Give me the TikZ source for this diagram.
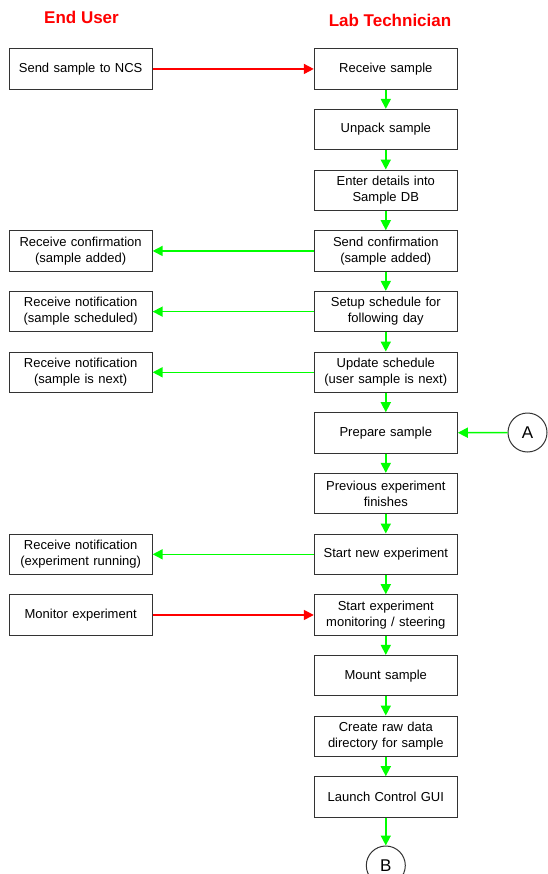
\documentclass[tikz,border=0pt]{standalone}
\usepackage{fontspec}
\setmainfont{Liberation Sans}
\usetikzlibrary{arrows.meta}

\definecolor{flowgreen}{RGB}{0,255,0}
\definecolor{flowred}{RGB}{255,0,0}
\definecolor{boxline}{RGB}{51,51,51}

\tikzset{
  stepbox/.style={draw=boxline, line width=1pt, fill=white,
    text width=135pt, inner xsep=4pt, inner ysep=0pt,
    minimum height=40.5pt, align=center,
    font=\fontsize{13}{16}\selectfont},
  connector/.style={draw=boxline, line width=1pt, circle, inner sep=0pt,
    minimum size=39pt, font=\fontsize{17}{20}\selectfont},
  lanetitle/.style={text=flowred, font=\fontsize{17}{20}\selectfont\bfseries},
  flowarrow/.style={flowgreen, line width=1.6pt,
    -{Triangle[length=10pt,width=10pt]}},
  userarrow/.style={flowred, line width=1.6pt,
    -{Triangle[length=10pt,width=10pt]}}
}

\begin{document}
\begin{tikzpicture}[x=1pt, y=-1pt]
  \useasboundingbox (0,0) rectangle (547,874);

  % lane headings
  \node[lanetitle] (userTitle) at (81.5,17) {End User};
  \node[lanetitle] (labTitle) at (390,20.5) {Lab Technician};

  % lab technician column
  \node[stepbox] (receive)  at (385.8,68.95)  {Receive sample};
  \node[stepbox] (unpack)   at (385.8,129.62) {Unpack sample};
  \node[stepbox] (enter)    at (385.8,190.29) {Enter details into\\Sample DB};
  \node[stepbox] (sendconf) at (385.8,250.96) {Send confirmation\\(sample added)};
  \node[stepbox] (setup)    at (385.8,311.63) {Setup schedule for\\following day};
  \node[stepbox] (update)   at (385.8,372.30) {Update schedule\\(user sample is next)};
  \node[stepbox] (prepare)  at (385.8,432.97) {Prepare sample};
  \node[stepbox] (previous) at (385.8,493.64) {Previous experiment\\finishes};
  \node[stepbox] (startnew) at (385.8,554.31) {Start new experiment};
  \node[stepbox] (startmon) at (385.8,614.98) {Start experiment\\monitoring / steering};
  \node[stepbox] (mount)    at (385.8,675.65) {Mount sample};
  \node[stepbox] (rawdir)   at (385.8,736.32) {Create raw data\\directory for sample};
  \node[stepbox] (launch)   at (385.8,796.99) {Launch Control GUI};

  % end user column
  \node[stepbox] (send)      at (80.65,68.95)  {Send sample to NCS};
  \node[stepbox] (recconf)   at (80.65,250.96) {Receive confirmation\\(sample added)};
  \node[stepbox] (recsched)  at (80.65,311.63) {Receive notification\\(sample scheduled)};
  \node[stepbox] (recnext)   at (80.65,372.30) {Receive notification\\(sample is next)};
  \node[stepbox] (recrun)    at (80.65,554.31) {Receive notification\\(experiment running)};
  \node[stepbox] (monitor)   at (80.65,614.98) {Monitor experiment};

  % off-page connectors
  \node[connector] (conA) at (527.5,432.5) {A};
  \node[connector] (conB) at (385.8,865.5) {B};

  % main sequence
  \draw[flowarrow] (receive)  -- (unpack);
  \draw[flowarrow] (unpack)   -- (enter);
  \draw[flowarrow] (enter)    -- (sendconf);
  \draw[flowarrow] (sendconf) -- (setup);
  \draw[flowarrow] (setup)    -- (update);
  \draw[flowarrow] (update)   -- (prepare);
  \draw[flowarrow] (prepare)  -- (previous);
  \draw[flowarrow] (previous) -- (startnew);
  \draw[flowarrow] (startnew) -- (startmon);
  \draw[flowarrow] (startmon) -- (mount);
  \draw[flowarrow] (mount)    -- (rawdir);
  \draw[flowarrow] (rawdir)   -- (launch);
  \draw[flowarrow] (launch)   -- (conB);
  \draw[flowarrow] (conA)     -- (prepare);

  % notifications to the user
  \draw[flowarrow] (sendconf) -- (recconf);
  \draw[flowarrow] (setup)    -- (recsched);
  \draw[flowarrow] (update)   -- (recnext);
  \draw[flowarrow] (startnew) -- (recrun);

  % user actions
  \draw[userarrow] (send)    -- (receive);
  \draw[userarrow] (monitor) -- (startmon);
\end{tikzpicture}
\end{document}
